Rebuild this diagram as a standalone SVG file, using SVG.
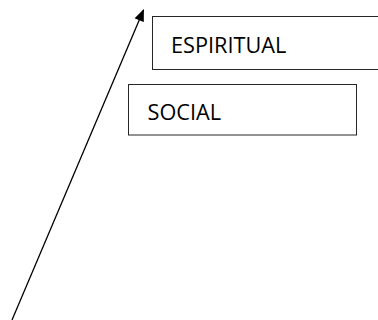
<svg xmlns="http://www.w3.org/2000/svg" width="378" height="320" viewBox="0 0 378 320">
<style>
.box{fill:#fff;stroke:#262626;stroke-width:1}
.lbl{font-family:"Open Sans","Liberation Sans",sans-serif;font-size:21.7px;fill:#000}
.conn{stroke:#000;stroke-width:1.3;fill:none}
</style>
<defs>
<marker id="ah" viewBox="0 0 12 10" refX="11" refY="5" markerWidth="13" markerHeight="10" markerUnits="userSpaceOnUse" orient="auto">
<path d="M0,0 L12,5 L0,10 z" fill="#000"/>
</marker>
</defs>
<rect width="378" height="320" fill="#fff"/>
<g id="connectors">
<line class="conn" x1="12" y1="320" x2="143.5" y2="10" marker-end="url(#ah)"/>
</g>
<g id="espiritual">
<rect class="box" x="152.5" y="16.5" width="230" height="53"/>
<text class="lbl" x="171" y="52.5">ESPIRITUAL</text>
</g>
<g id="social">
<rect class="box" x="128.5" y="84.5" width="228" height="50.5"/>
<text class="lbl" x="147.5" y="120">SOCIAL</text>
</g>
</svg>
